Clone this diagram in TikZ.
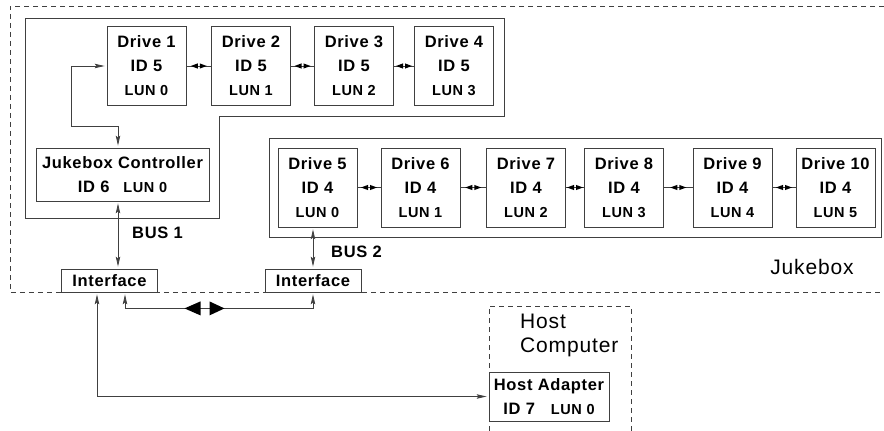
\documentclass[tikz,border=0pt]{standalone}
\usepackage{fontspec}
\setmainfont{Liberation Sans}[LetterSpace=4]
\usetikzlibrary{arrows.meta,decorations.markings}

\newcommand{\lunno}[1]{{\fontsize{14.5}{24}\selectfont LUN #1}}

\tikzset{
  unit/.style={draw=black!75, line width=0.8pt, align=center, inner sep=0pt,
    font=\bfseries\fontsize{16.5}{24}\selectfont},
  drive/.style={unit, minimum width=79pt, minimum height=79pt},
  port/.style={unit, minimum width=96pt, minimum height=23pt},
  wire/.style={draw=black!75, line width=0.8pt},
  link/.style={wire, {Stealth[length=10pt,width=4.5pt,inset=2pt]}-{Stealth[length=10pt,width=4.5pt,inset=2pt]},
    shorten <=2pt, shorten >=2pt},
  pair/.style={wire, decoration={markings, mark=at position 0.5 with {
      \fill (-1pt,-2.6pt) -- (-8pt,0pt) -- (-1pt,2.6pt) -- cycle;
      \fill (1pt,-2.6pt) -- (8pt,0pt) -- (1pt,2.6pt) -- cycle;}},
    postaction=decorate},
  bigpair/.style={decoration={markings, mark=at position 96pt with {
      \fill (-4.5pt,-7pt) -- (-20.5pt,0pt) -- (-4.5pt,7pt) -- cycle;
      \fill (4.5pt,-7pt) -- (19.5pt,0pt) -- (4.5pt,7pt) -- cycle;}},
    postaction=decorate},
  lbl/.style={inner sep=0pt, font=\bfseries\fontsize{16.5}{24}\selectfont},
  title/.style={inner sep=0pt, font=\fontsize{21}{24}\selectfont},
  fence/.style={draw=black!75, line width=0.8pt, dash pattern=on 5pt off 4pt}
}

\begin{document}
\begin{tikzpicture}[x=1pt, y=-1pt]
  \useasboundingbox (0,0) rectangle (884,431);

  % enclosures
  \draw[fence] (884,6) -- (10,6) -- (10,292) -- (884,292);
  \draw[fence] (489,431) -- (489,306) -- (631,306) -- (631,431);
  \draw[wire] (25,18) -- (504,18) -- (504,116) -- (219,116) -- (219,218) -- (25,218) -- cycle;
  \draw[wire] (269,138) rectangle (881,237);

  % first drive group
  \node[drive] (d1) at (146.5,66) {Drive 1\\ID 5\\\lunno{0}};
  \node[drive] (d2) at (251,66) {Drive 2\\ID 5\\\lunno{1}};
  \node[drive] (d3) at (354,66) {Drive 3\\ID 5\\\lunno{2}};
  \node[drive] (d4) at (454,66) {Drive 4\\ID 5\\\lunno{3}};

  % second drive group
  \node[drive] (d5) at (317.5,187.5) {Drive 5\\ID 4\\\lunno{0}};
  \node[drive] (d6) at (420.5,187.5) {Drive 6\\ID 4\\\lunno{1}};
  \node[drive] (d7) at (526,187.5) {Drive 7\\ID 4\\\lunno{2}};
  \node[drive] (d8) at (624,187.5) {Drive 8\\ID 4\\\lunno{3}};
  \node[drive] (d9) at (732.5,187.5) {Drive 9\\ID 4\\\lunno{4}};
  \node[drive] (d10) at (835.5,187.5) {Drive 10\\ID 4\\\lunno{5}};

  \node[unit, minimum width=173pt, minimum height=53pt] (ctrl) at (122.5,174.5)
    {Jukebox Controller\\ID 6\hspace{14pt}\lunno{0}};
  \node[port] (if1) at (109.5,280.5) {Interface};
  \node[port] (if2) at (313,280.5) {Interface};
  \node[unit, minimum width=120pt, minimum height=49pt] (ha) at (549,396.5)
    {Host Adapter\\ID 7\hspace{16pt}\lunno{0}};

  % labels
  \node[lbl] (bus1) at (157.5,233) {BUS 1};
  \node[lbl] (bus2) at (356.5,252) {BUS 2};
  \node[title] (jb) at (812,267) {Jukebox};
  \node[title, anchor=west, align=left] (hc) at (520,335) {Host\\Computer};

  % connections
  \draw[pair] (d1) -- (d2);
  \draw[pair] (d2) -- (d3);
  \draw[pair] (d3) -- (d4);
  \draw[pair] (d5) -- (d6);
  \draw[pair] (d6) -- (d7);
  \draw[pair] (d7) -- (d8);
  \draw[pair] (d8) -- (d9);
  \draw[pair] (d9) -- (d10);

  \draw[link] (d1.west) -- ++(-35,0) -- ++(0,60) -| ([xshift=-4.5pt]ctrl.north);
  \draw[link] ([xshift=-4.5pt]ctrl.south) -- ([xshift=-4.5pt]ctrl.south |- if1.north);
  \draw[link] (if2.north) -- (if2.north |- d5.south);
  \draw[link, bigpair] ([xshift=15.5pt]if1.south) -- ++(0,16) -| (if2.south);
  \draw[link] ([xshift=-12.5pt]if1.south) |- (ha.west);
\end{tikzpicture}
\end{document}
